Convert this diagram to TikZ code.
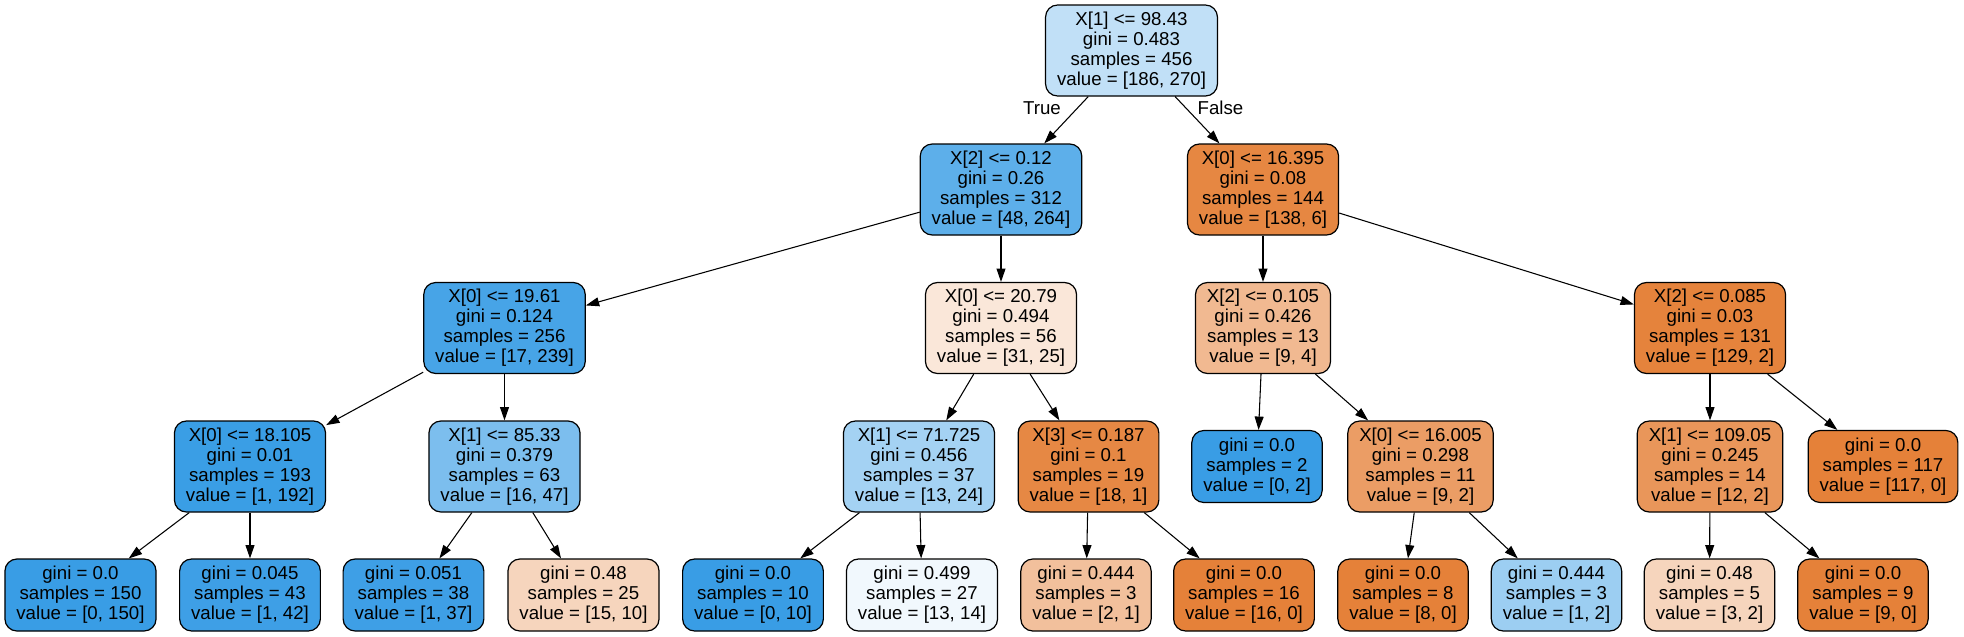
\documentclass[tikz,border=0pt]{standalone}
\usepackage{fontspec}
\setmainfont{Liberation Sans}
\usetikzlibrary{arrows.meta}
\definecolor{or100}{RGB}{229,129,57}
\definecolor{or98}{RGB}{229,131,60}
\definecolor{or96}{RGB}{230,135,66}
\definecolor{or94}{RGB}{230,136,68}
\definecolor{or83}{RGB}{233,150,90}
\definecolor{or78}{RGB}{235,157,101}
\definecolor{or56}{RGB}{241,185,145}
\definecolor{or50}{RGB}{242,192,156}
\definecolor{or33}{RGB}{246,213,189}
\definecolor{or19}{RGB}{250,231,217}
\definecolor{bl100}{RGB}{57,157,229}
\definecolor{bl99}{RGB}{58,158,229}
\definecolor{bl97}{RGB}{62,159,230}
\definecolor{bl93}{RGB}{71,164,231}
\definecolor{bl82}{RGB}{93,175,234}
\definecolor{bl66}{RGB}{124,190,238}
\definecolor{bl50}{RGB}{156,206,242}
\definecolor{bl46}{RGB}{164,210,243}
\definecolor{bl31}{RGB}{193,224,247}
\definecolor{bl07}{RGB}{241,248,253}
\begin{document}
\begin{tikzpicture}[x=0.75pt,y=-0.75pt,
    box/.style={draw=black,line width=0.9pt,rounded corners=9pt,align=center,
      font=\fontsize{14}{15}\selectfont,inner xsep=8.6pt,inner ysep=2pt,minimum height=68.25pt},
    leaf/.style={box,minimum height=54pt},
    branch/.style={font=\fontsize{14}{15}\selectfont,inner sep=0pt},
    edge/.style={line width=0.8pt,-{Triangle[length=10pt,width=6.7pt]}}]
			\useasboundingbox (0,0) rectangle (1964,636);
			% root and first split
			\node[box,fill=bl31] (R) at (1131.5,50.5) {X[1] <= 98.43\\gini = 0.483\\samples = 456\\value = [186, 270]};
			\node[box,fill=bl82] (A) at (1001,189.5) {X[2] <= 0.12\\gini = 0.26\\samples = 312\\value = [48, 264]};
			\node[box,fill=or96] (B) at (1263,189.5) {X[0] <= 16.395\\gini = 0.08\\samples = 144\\value = [138, 6]};
			% second level
			\node[box,fill=bl93] (AA) at (504.5,328) {X[0] <= 19.61\\gini = 0.124\\samples = 256\\value = [17, 239]};
			\node[box,fill=or19] (AB) at (1001,328) {X[0] <= 20.79\\gini = 0.494\\samples = 56\\value = [31, 25]};
			\node[box,fill=or56] (BA) at (1263,328) {X[2] <= 0.105\\gini = 0.426\\samples = 13\\value = [9, 4]};
			\node[box,fill=or98] (BB) at (1710,328) {X[2] <= 0.085\\gini = 0.03\\samples = 131\\value = [129, 2]};
			% third level
			\node[box,fill=bl99] (AAA) at (250,466.5) {X[0] <= 18.105\\gini = 0.01\\samples = 193\\value = [1, 192]};
			\node[box,fill=bl66] (AAB) at (504.5,466.5) {X[1] <= 85.33\\gini = 0.379\\samples = 63\\value = [16, 47]};
			\node[box,fill=bl46] (ABA) at (919,466.5) {X[1] <= 71.725\\gini = 0.456\\samples = 37\\value = [13, 24]};
			\node[box,fill=or94] (ABB) at (1088.5,466.5) {X[3] <= 0.187\\gini = 0.1\\samples = 19\\value = [18, 1]};
			\node[leaf,fill=bl100] (BAA) at (1257,466.5) {gini = 0.0\\samples = 2\\value = [0, 2]};
			\node[box,fill=or78] (BAB) at (1420.5,466.5) {X[0] <= 16.005\\gini = 0.298\\samples = 11\\value = [9, 2]};
			\node[box,fill=or83] (BBA) at (1710,466.5) {X[1] <= 109.05\\gini = 0.245\\samples = 14\\value = [12, 2]};
			\node[leaf,fill=or100] (BBB) at (1883,466.5) {gini = 0.0\\samples = 117\\value = [117, 0]};
			% leaves
			\node[leaf,fill=bl100] (AAAA) at (80.5,595) {gini = 0.0\\samples = 150\\value = [0, 150]};
			\node[leaf,fill=bl97] (AAAB) at (250,595) {gini = 0.045\\samples = 43\\value = [1, 42]};
			\node[leaf,fill=bl97] (AABA) at (413.5,595) {gini = 0.051\\samples = 38\\value = [1, 37]};
			\node[leaf,fill=or33] (AABB) at (583.5,595) {gini = 0.48\\samples = 25\\value = [15, 10]};
			\node[leaf,fill=bl100] (ABAA) at (753,595) {gini = 0.0\\samples = 10\\value = [0, 10]};
			\node[leaf,fill=bl07] (ABAB) at (922,595) {gini = 0.499\\samples = 27\\value = [13, 14]};
			\node[leaf,fill=or50] (ABBA) at (1086,595) {gini = 0.444\\samples = 3\\value = [2, 1]};
			\node[leaf,fill=or100] (ABBB) at (1244,595) {gini = 0.0\\samples = 16\\value = [16, 0]};
			\node[leaf,fill=or100] (BABA) at (1403,595) {gini = 0.0\\samples = 8\\value = [8, 0]};
			\node[leaf,fill=bl50] (BABB) at (1556.5,595) {gini = 0.444\\samples = 3\\value = [1, 2]};
			\node[leaf,fill=or33] (BBAA) at (1709.5,595) {gini = 0.48\\samples = 5\\value = [3, 2]};
			\node[leaf,fill=or100] (BBAB) at (1863,595) {gini = 0.0\\samples = 9\\value = [9, 0]};
			% edges
			\draw[edge] (R) to (A);
			\draw[edge] (R) to (B);
			\node[branch] (T) at (1042,108) {True};
			\node[branch] (F) at (1220.5,108) {False};
			\draw[edge] (A) to (AA);
			\draw[edge] (A) to (AB);
			\draw[edge] (B) to (BA);
			\draw[edge] (B) to (BB);
			\draw[edge] (AA) to (AAA);
			\draw[edge] (AA) to (AAB);
			\draw[edge] (AB) to (ABA);
			\draw[edge] (AB) to (ABB);
			\draw[edge] (BA) to (BAA);
			\draw[edge] (BA) to (BAB);
			\draw[edge] (BB) to (BBA);
			\draw[edge] (BB) to (BBB);
			\draw[edge] (AAA) to (AAAA);
			\draw[edge] (AAA) to (AAAB);
			\draw[edge] (AAB) to (AABA);
			\draw[edge] (AAB) to (AABB);
			\draw[edge] (ABA) to (ABAA);
			\draw[edge] (ABA) to (ABAB);
			\draw[edge] (ABB) to (ABBA);
			\draw[edge] (ABB) to (ABBB);
			\draw[edge] (BAB) to (BABA);
			\draw[edge] (BAB) to (BABB);
			\draw[edge] (BBA) to (BBAA);
			\draw[edge] (BBA) to (BBAB);
\end{tikzpicture}
\end{document}
